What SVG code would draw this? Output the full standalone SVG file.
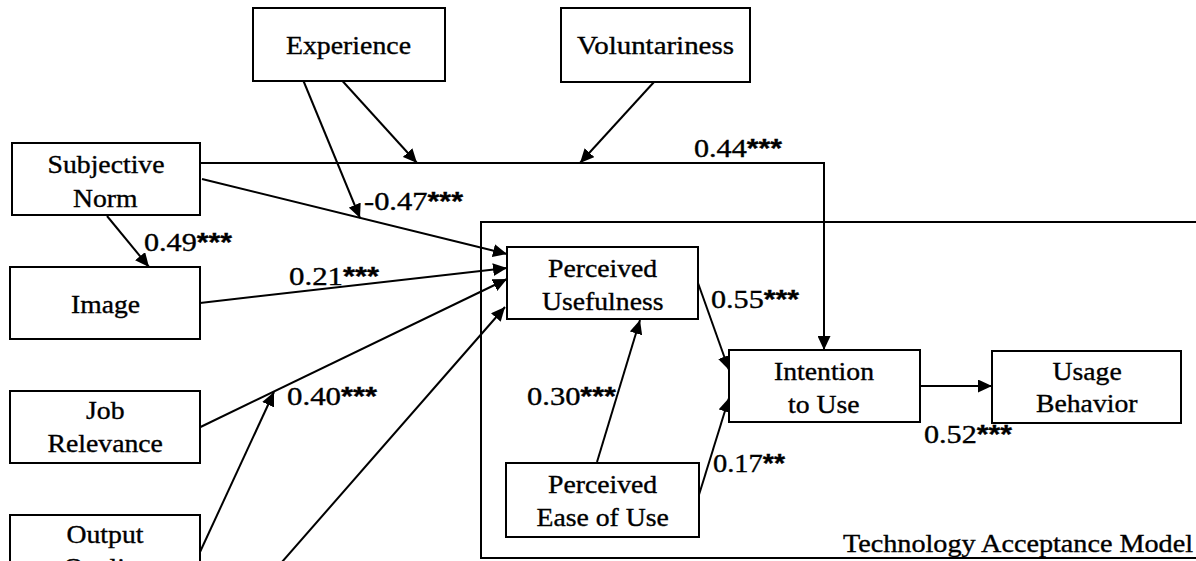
<svg xmlns="http://www.w3.org/2000/svg" width="1196" height="561" viewBox="0 0 1196 561">
<style>
  .box{fill:#fff;stroke:#000;stroke-width:2}
  .t{font-family:"Liberation Serif","Times New Roman",serif;font-size:25px;fill:#000;stroke:#000;stroke-width:0.35}
  .lbl{font-family:"Liberation Serif","Times New Roman",serif;font-size:25px;fill:#000;stroke:#000;stroke-width:0.35}
  .st{font-family:"Liberation Sans",Arial,sans-serif;font-weight:bold;font-size:25px}
  .ln{fill:none;stroke:#000;stroke-width:2}
  .ar{fill:none;stroke:#000;stroke-width:2;marker-end:url(#ah)}
</style>
<defs>
  <marker id="ah" markerUnits="userSpaceOnUse" markerWidth="14" markerHeight="13" refX="14" refY="6.5" orient="auto">
    <path d="M0,0 L14,6.5 L0,13 Z" fill="#000"/>
  </marker>
</defs>
<rect width="1196" height="561" fill="#fff"/>

<g id="tam">
  <path class="ln" d="M1200,222 H481 V558 H1200"/>
  <text class="t" x="843" y="552" textLength="350" lengthAdjust="spacingAndGlyphs">Technology Acceptance Model</text>
</g>

<g id="connectors">
  <path class="ar" d="M200,163 H824 V350"/>
  <path class="ar" d="M303.5,81 L360,218"/>
  <path class="ar" d="M342.5,81 L417,163"/>
  <path class="ar" d="M654,82 L580,163"/>
  <path class="ar" d="M107,216 L149,267"/>
  <path class="ar" d="M202,179 L507,254"/>
  <path class="ar" d="M200,303 L507,268"/>
  <path class="ar" d="M200.5,427 L507,279"/>
  <path class="ar" d="M200,552 L274,392"/>
  <path class="ar" d="M240,610 L505,307"/>
  <path class="ar" d="M597,462 L640,320"/>
  <path class="ar" d="M698,283 L729,370"/>
  <path class="ar" d="M698,498 L729,398"/>
  <path class="ar" d="M920,386 L992,386"/>
</g>

<g id="experience">
  <rect class="box" x="253" y="8" width="192" height="73"/>
  <text class="t" x="286" y="54" textLength="125" lengthAdjust="spacingAndGlyphs">Experience</text>
</g>
<g id="voluntariness">
  <rect class="box" x="561" y="8" width="189" height="74"/>
  <text class="t" x="577" y="54" textLength="157" lengthAdjust="spacingAndGlyphs">Voluntariness</text>
</g>
<g id="subjective-norm">
  <rect class="box" x="12" y="143" width="188" height="72"/>
  <text class="t" x="47.5" y="173" textLength="117" lengthAdjust="spacingAndGlyphs">Subjective</text>
  <text class="t" x="73" y="207" textLength="64.6" lengthAdjust="spacingAndGlyphs">Norm</text>
</g>
<g id="image">
  <rect class="box" x="10" y="267" width="190" height="72"/>
  <text class="t" x="71" y="313" textLength="69" lengthAdjust="spacingAndGlyphs">Image</text>
</g>
<g id="job-relevance">
  <rect class="box" x="10" y="391" width="190" height="72"/>
  <text class="t" x="86" y="419" textLength="38.5" lengthAdjust="spacingAndGlyphs">Job</text>
  <text class="t" x="47.5" y="452" textLength="115.4" lengthAdjust="spacingAndGlyphs">Relevance</text>
</g>
<g id="output-quality">
  <rect class="box" x="10" y="515" width="190" height="90"/>
  <text class="t" x="66.5" y="543" textLength="77" lengthAdjust="spacingAndGlyphs">Output</text>
  <text class="t" x="63.5" y="576" textLength="83" lengthAdjust="spacingAndGlyphs">Quality</text>
</g>
<g id="perceived-usefulness">
  <rect class="box" x="507" y="247" width="191" height="72"/>
  <text class="t" x="548" y="277" textLength="109.2" lengthAdjust="spacingAndGlyphs">Perceived</text>
  <text class="t" x="542" y="310" textLength="121.5" lengthAdjust="spacingAndGlyphs">Usefulness</text>
</g>
<g id="perceived-ease-of-use">
  <rect class="box" x="506" y="463" width="193" height="74"/>
  <text class="t" x="548" y="493" textLength="109.2" lengthAdjust="spacingAndGlyphs">Perceived</text>
  <text class="t" x="536.5" y="526" textLength="132.3" lengthAdjust="spacingAndGlyphs">Ease of Use</text>
</g>
<g id="intention-to-use">
  <rect class="box" x="729" y="350" width="191" height="72"/>
  <text class="t" x="774" y="380" textLength="100" lengthAdjust="spacingAndGlyphs">Intention</text>
  <text class="t" x="788" y="413" textLength="71.5" lengthAdjust="spacingAndGlyphs">to Use</text>
</g>
<g id="usage-behavior">
  <rect class="box" x="992" y="351" width="189" height="72"/>
  <text class="t" x="1052.5" y="380" textLength="69.2" lengthAdjust="spacingAndGlyphs">Usage</text>
  <text class="t" x="1036" y="412" textLength="101.5" lengthAdjust="spacingAndGlyphs">Behavior</text>
</g>

<g id="labels">
  <text class="lbl" x="694" y="157" textLength="88" lengthAdjust="spacingAndGlyphs">0.44<tspan class="st">***</tspan></text>
  <text class="lbl" x="364" y="210" textLength="99" lengthAdjust="spacingAndGlyphs">-0.47<tspan class="st">***</tspan></text>
  <text class="lbl" x="144" y="251" textLength="88" lengthAdjust="spacingAndGlyphs">0.49<tspan class="st">***</tspan></text>
  <text class="lbl" x="289" y="285" textLength="90" lengthAdjust="spacingAndGlyphs">0.21<tspan class="st">***</tspan></text>
  <text class="lbl" x="287" y="405" textLength="90" lengthAdjust="spacingAndGlyphs">0.40<tspan class="st">***</tspan></text>
  <text class="lbl" x="711" y="308" textLength="88" lengthAdjust="spacingAndGlyphs">0.55<tspan class="st">***</tspan></text>
  <text class="lbl" x="527" y="405" textLength="89" lengthAdjust="spacingAndGlyphs">0.30<tspan class="st">***</tspan></text>
  <text class="lbl" x="713" y="472" textLength="72" lengthAdjust="spacingAndGlyphs">0.17<tspan class="st">**</tspan></text>
  <text class="lbl" x="924" y="443" textLength="88" lengthAdjust="spacingAndGlyphs">0.52<tspan class="st">***</tspan></text>
</g>
</svg>
